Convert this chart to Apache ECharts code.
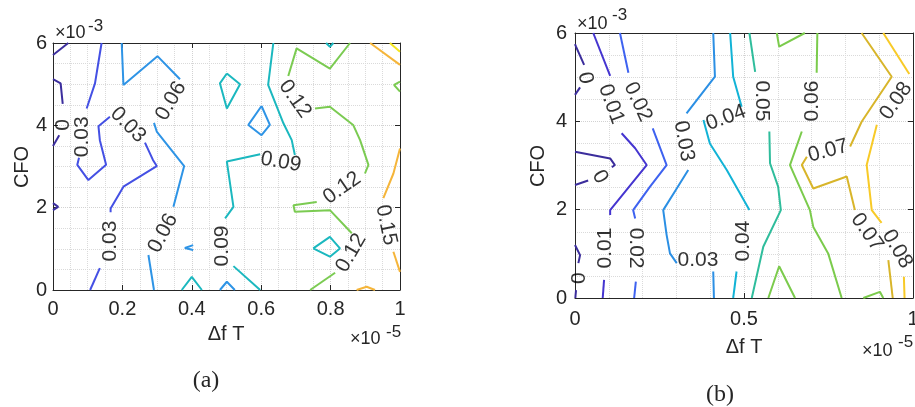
<!DOCTYPE html>
<html>
<head>
<meta charset="utf-8">
<script src="https://cdn.jsdelivr.net/npm/echarts@6.0.0/dist/echarts.min.js"></script>
<style>
html, body { margin: 0; padding: 0; background: #fff; }
#chart { width: 915px; height: 407px; }
</style>
</head>
<body>
<div id="chart"></div>
<script>
// x in units of 1e-5 (Δf T), y in units of 1e-3 (CFO)
// each contour level = list of polyline pieces (gaps are where MATLAB put the inline labels)

// ---- panel (a) ----
var a0 = [
  [[0, 5.71], [0.044, 6]],
  [[0, 5.12], [0.022, 5.02], [0.028, 4.52]],
  [[0.018, 3.76], [0, 3.5]],
  [[0, 2.11], [0.015, 2.02], [0, 1.94]]
];
var a03 = [
  [[0.14, 6], [0.121, 5.02], [0.097, 4.41]],
  [[0.075, 3.21], [0.070, 3.04], [0.102, 2.67], [0.153, 3.04], [0.135, 3.64], [0.131, 3.98], [0.164, 4.21]],
  [[0.265, 3.58], [0.288, 3.16], [0.299, 3.01], [0.203, 2.51], [0.166, 1.98], [0.166, 1.89]],
  [[0.135, 0.53], [0.107, 0]]
];
var a06 = [
  [[0.198, 6], [0.203, 4.98], [0.301, 5.68], [0.366, 5.12]],
  [[0.291, 4.06], [0.299, 3.85], [0.378, 3.01], [0.347, 2.02]],
  [[0.275, 0.85], [0.291, 0]],
  [[0.601, 4.47], [0.625, 4.01], [0.601, 3.76], [0.563, 4.01], [0.601, 4.47]],
  [[0.404, 1.09], [0.380, 1.02], [0.404, 0.97]],
  [[0.481, 0], [0.501, 0.20], [0.524, 0]]
];
var a09 = [
  [[0.635, 6], [0.620, 4.98], [0.664, 4.05], [0.688, 3.64], [0.697, 3.28]],
  [[0.597, 3.30], [0.501, 3.12], [0.520, 2.02], [0.496, 1.74]],
  [[0.520, 0.58], [0.597, 0]],
  [[0.501, 5.26], [0.539, 5.00], [0.501, 4.41], [0.481, 5.02], [0.501, 5.26]],
  [[0.787, 6], [0.798, 5.91], [0.808, 6]],
  [[0.371, 0], [0.400, 0.32], [0.429, 0]],
  [[0.750, 1.01], [0.798, 1.29], [0.827, 1.01], [0.798, 0.81], [0.750, 1.01]]
];
var a12 = [
  [[0.678, 5.20], [0.702, 5.87], [0.798, 5.38], [0.856, 6]],
  [[0.755, 4.41], [0.798, 4.45], [0.865, 4.01], [0.885, 3.64], [0.909, 3.04], [0.899, 2.83]],
  [[0.760, 2.14], [0.693, 2.06], [0.697, 1.90], [0.798, 1.94], [0.861, 1.38]],
  [[0.813, 0.42], [0.741, 0]],
  [[1, 5.06], [0.983, 4.98], [1, 4.82]]
];
var a15 = [
  [[0.914, 6], [1, 5.47]],
  [[1, 3.44], [0.981, 2.83], [0.952, 2.23]],
  [[0.981, 0.93], [1, 0.44]],
  [[0.875, 0], [0.904, 0.08], [0.928, 0]]
];
var a18 = [
  [[0.971, 6], [1, 5.79]]
];
// [x, y, text, rotation]
var labelsA = [
  [0.030, 4.01, '0', 90],
  [0.085, 3.72, '0.03', 90],
  [0.216, 4.01, '0.03', -45],
  [0.164, 1.19, '0.03', 90],
  [0.340, 4.59, '0.06', 60],
  [0.317, 1.38, '0.06', 62],
  [0.657, 3.11, '0.09', -10],
  [0.487, 1.07, '0.09', 90],
  [0.697, 4.64, '0.12', -55],
  [0.833, 2.48, '0.12', 35],
  [0.859, 0.90, '0.12', 60],
  [0.960, 1.58, '0.15', -78]
];

// ---- panel (b) ----
var b0 = [
  [[0, 5.75], [0.003, 5.69], [0.027, 5.28]],
  [[0.015, 4.77], [0, 4.6]],
  [[0, 3.31], [0.104, 3.16], [0.118, 3.01], [0.109, 2.96]],
  [[0.039, 2.66], [0, 2.56]],
  [[0, 1.20], [0.015, 0.97], [0.010, 0.79]],
  [[0.003, 0.18], [0.001, 0]]
];
var b01 = [
  [[0.054, 6], [0.104, 5.03]],
  [[0.138, 3.73], [0.178, 3.39], [0.212, 3.01], [0.104, 1.99], [0.104, 1.88]],
  [[0.086, 0.41], [0.082, 0]]
];
var b02 = [
  [[0.133, 6], [0.158, 5.10]],
  [[0.230, 3.84], [0.271, 3.01], [0.222, 2.52], [0.172, 1.99], [0.178, 1.80]],
  [[0.180, 0.37], [0.175, 0]]
];
var b03 = [
  [[0.409, 6], [0.414, 5.01], [0.330, 4.18]],
  [[0.335, 2.90], [0.301, 2.48], [0.261, 1.99], [0.271, 1.43], [0.281, 1.01], [0.301, 0.79]],
  [[0.409, 0.60], [0.411, 0]]
];
var b04 = [
  [[0.459, 6], [0.468, 5.01], [0.493, 4.33]],
  [[0.380, 4.03], [0.399, 3.50], [0.449, 2.90], [0.516, 1.99]],
  [[0.478, 0.60], [0.468, 0]]
];
var b05 = [
  [[0.516, 6], [0.533, 5.12]],
  [[0.575, 3.77], [0.577, 3.05], [0.601, 2.52], [0.609, 1.99], [0.557, 1.16], [0.523, 0]]
];
var b06 = [
  [[0.597, 6], [0.604, 5.69], [0.680, 6]],
  [[0.717, 6], [0.715, 5.10]],
  [[0.671, 3.77], [0.636, 3.01], [0.695, 1.99], [0.705, 1.61], [0.749, 1.01], [0.789, 0]],
  [[0.572, 0], [0.604, 0.72], [0.651, 0]],
  [[0.853, 0], [0.902, 0.14], [0.912, 0]]
];
var b07 = [
  [[0.848, 6], [0.937, 5.01], [0.848, 3.99], [0.814, 3.43]],
  [[0.686, 3.20], [0.671, 3.01], [0.705, 2.48], [0.804, 2.75], [0.828, 1.99]],
  [[0.927, 0.86], [0.940, 0]]
];
var b08 = [
  [[0.912, 6], [0.989, 5.07]],
  [[0.893, 3.92], [0.863, 3.01], [0.878, 1.99], [0.907, 1.70]],
  [[0.973, 0.48], [0.975, 0]]
];
var labelsB = [
  [0.030, 4.98, '0', -80],
  [0.074, 2.74, '0', -60],
  [0.012, 0.45, '0', 90],
  [0.107, 4.39, '0.01', -70],
  [0.089, 1.13, '0.01', 90],
  [0.186, 4.44, '0.02', -65],
  [0.180, 1.13, '0.02', -90],
  [0.322, 3.55, '0.03', -80],
  [0.364, 0.85, '0.03', 0],
  [0.447, 4.08, '0.04', 20],
  [0.497, 1.29, '0.04', 90],
  [0.553, 4.46, '0.05', -90],
  [0.701, 4.46, '0.06', 90],
  [0.749, 3.33, '0.07', 15],
  [0.864, 1.49, '0.07', -55],
  [0.950, 4.46, '0.08', 55],
  [0.953, 1.11, '0.08', -60]
];

var levelsA = [a0, a03, a06, a09, a12, a15, a18];
var colorsA = ['#3c2e9e', '#4450e4', '#2e94e6', '#1bb8bf', '#7bcb52', '#f5b53a', '#f3e51e'];
var levelsB = [b0, b01, b02, b03, b04, b05, b06, b07, b08];
var colorsB = ['#3b2d9c', '#4535d0', '#3e62f0', '#2b8fe4', '#12b3d6', '#2fbd9c', '#7bcb4c', '#d8b52a', '#f8ca27'];

var ink = '#262626';
var font = '"Liberation Sans", Arial, Helvetica, sans-serif';

var chart = echarts.init(document.getElementById('chart'));

function xAx(gi, step, minorN, top, margin) {
  return {
    type: 'value', gridIndex: gi, min: 0, max: 1, interval: step,
    position: top ? 'top' : 'bottom',
    axisLine: { show: true, onZero: false, lineStyle: { color: ink, width: 1 } },
    axisTick: { show: true, inside: true, length: 5, lineStyle: { color: ink } },
    axisLabel: { show: !top, color: ink, fontSize: 20, fontFamily: font, margin: margin, hideOverlap: false },
    splitLine: { show: !top, lineStyle: { color: '#d2d2d2', type: 'dotted' } },
    minorTick: { show: false, splitNumber: minorN },
    minorSplitLine: { show: !top, lineStyle: { color: '#dadada', type: 'dotted' } }
  };
}
function yAx(gi, right, margin) {
  return {
    type: 'value', gridIndex: gi, min: 0, max: 6, interval: 2,
    position: right ? 'right' : 'left',
    axisLine: { show: true, onZero: false, lineStyle: { color: ink, width: 1 } },
    axisTick: { show: true, inside: true, length: 5, lineStyle: { color: ink } },
    axisLabel: { show: !right, color: ink, fontSize: 20, fontFamily: font, margin: margin },
    splitLine: { show: !right, lineStyle: { color: '#d2d2d2', type: 'dotted' } },
    minorTick: { show: false, splitNumber: 4 },
    minorSplitLine: { show: !right, lineStyle: { color: '#dadada', type: 'dotted' } }
  };
}

var series = [];
function addLevels(levels, colors, axisIdx) {
  levels.forEach(function (lev, i) {
    lev.forEach(function (seg) {
      series.push({
        type: 'line', xAxisIndex: axisIdx, yAxisIndex: axisIdx,
        data: seg, symbol: 'none', silent: true, z: 3,
        lineStyle: { color: colors[i], width: 2 }
      });
    });
  });
}
function addLabels(labels, axisIdx) {
  series.push({
    type: 'scatter', xAxisIndex: axisIdx, yAxisIndex: axisIdx,
    symbolSize: 0.1, itemStyle: { color: 'rgba(0,0,0,0)' }, silent: true, z: 4,
    data: labels.map(function (l) {
      return { value: [l[0], l[1]], name: l[2], label: { rotate: l[3] } };
    }),
    label: {
      show: true, position: 'inside', formatter: '{b}',
      color: '#000', fontSize: 21, fontFamily: font
    }
  });
}
addLevels(levelsA, colorsA, 0);
addLabels(labelsA, 0);
addLevels(levelsB, colorsB, 2);
addLabels(labelsB, 2);

function txt(x, y, s, size, opts) {
  opts = opts || {};
  return {
    type: 'text', x: x, y: y, rotation: opts.rot || 0, z: 10,
    style: {
      text: s, fill: ink, fontSize: size,
      fontFamily: opts.family || font,
      align: opts.align || 'center', verticalAlign: 'middle'
    }
  };
}

chart.setOption({
  animation: false,
  backgroundColor: '#fff',
  grid: [
    { left: 53, top: 43, width: 347, height: 247, outerBoundsMode: 'none', containLabel: false },
    { left: 575, top: 33, width: 338, height: 265, outerBoundsMode: 'none', containLabel: false }
  ],
  xAxis: [xAx(0, 0.2, 4, false, 9), xAx(0, 0.2, 4, true, 0), xAx(1, 0.5, 5, false, 11), xAx(1, 0.5, 5, true, 0)],
  yAxis: [yAx(0, false, 6), yAx(0, true, 0), yAx(1, false, 8), yAx(1, true, 0)],
  series: series,
  graphic: [
    txt(22, 167, 'CFO', 20, { rot: Math.PI / 2 }),
    txt(226, 334, 'Δf T', 20),
    txt(55, 33, '×10', 18, { align: 'left' }),
    txt(88, 26, '-3', 17, { align: 'left' }),
    txt(350, 339, '×10', 18, { align: 'left' }),
    txt(386, 332, '-5', 17, { align: 'left' }),
    txt(206, 381, '(a)', 24, { family: '"Liberation Serif", "DejaVu Serif", serif' }),

    txt(538, 166, 'CFO', 20, { rot: Math.PI / 2 }),
    txt(744, 347, 'Δf T', 20),
    txt(577, 24, '×10', 18, { align: 'left' }),
    txt(612, 15, '-3', 17, { align: 'left' }),
    txt(862, 351, '×10', 18, { align: 'left' }),
    txt(898, 342, '-5', 17, { align: 'left' }),
    txt(720, 395, '(b)', 24, { family: '"Liberation Serif", "DejaVu Serif", serif' })
  ]
});
</script>
</body>
</html>
